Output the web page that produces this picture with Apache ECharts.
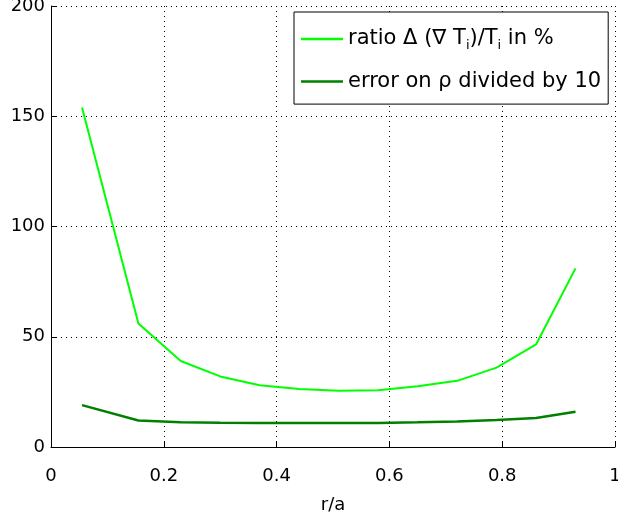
<!DOCTYPE html>
<html><head><meta charset="utf-8">
<script src="https://cdn.jsdelivr.net/npm/echarts@6/dist/echarts.min.js"></script>
<style>html,body{margin:0;padding:0;background:#fff}#c{width:618px;height:517px}</style>
</head><body><div id="c"></div>
<script>
var rPos = [0.055, 0.155, 0.23, 0.30, 0.37, 0.44, 0.51, 0.58, 0.65, 0.72, 0.79, 0.86, 0.93];
var ratioVals = [154, 56, 39, 32, 28, 26.3, 25.5, 25.7, 27.5, 30, 36, 46.5, 81];
var errorVals = [19, 12, 11.2, 11, 10.9, 10.9, 10.9, 10.9, 11.2, 11.6, 12.3, 13.2, 16];
var xTicks = [0, 0.2, 0.4, 0.6, 0.8, 1];
var yTicks = [0, 50, 100, 150, 200];
var name1 = 'ratio';
var name2 = 'error';

function pairs(xs, ys){ return xs.map(function(x,i){ return [x, ys[i]]; }); }
var font = 'DejaVu Sans, sans-serif';
var chart = echarts.init(document.getElementById('c'), null, {renderer:'canvas'});
chart.setOption({
  animation:false,
  backgroundColor:'#fff',
  grid:{left:51, top:6, right:3, bottom:70, containLabel:false, outerBoundsMode:'none'},
  xAxis:{type:'value', min:0, max:1, interval:0.2,
    name:'r/a', nameLocation:'middle', nameGap:49,
    nameTextStyle:{fontFamily:font, fontSize:18, color:'#000'},
    axisLine:{show:true, onZero:false, lineStyle:{color:'#000', width:1}},
    axisTick:{show:true, inside:true, length:5, lineStyle:{color:'#000'}},
    axisLabel:{fontFamily:font, fontSize:18, color:'#000', margin:20,
      formatter:function(v){ return String(Math.round(v*10)/10); }},
    splitLine:{show:true, lineStyle:{color:'#000', type:[1,4], width:1}}
  },
  yAxis:{type:'value', min:0, max:200, interval:50,
    axisLine:{show:true, onZero:false, lineStyle:{color:'#000', width:1}},
    axisTick:{show:true, inside:true, length:5, lineStyle:{color:'#000'}},
    axisLabel:{fontFamily:font, fontSize:18, color:'#000', margin:6, padding:[5,0,0,0]},
    splitLine:{show:true, lineStyle:{color:'#000', type:[1,4], width:1}}
  },
  legend:{show:true, orient:'vertical', left:294, top:12,
    padding:[16.5, 7, 12, 7], itemGap:18.6, itemWidth:42, itemHeight:2.5, icon:'rect',
    backgroundColor:'#fff', borderColor:'#000', borderWidth:1,
    textStyle:{fontFamily:font, fontSize:21, color:'#000',
      rich:{sub:{fontFamily:font, fontSize:13, color:'#000', padding:[14,0,0,0]},
            t:{fontFamily:font, fontSize:21, color:'#000'}}},
    formatter:function(n){
      if(n===name1) return '{t|ratio \u0394 (\u2207 T}{sub|i}{t|)/T}{sub|i}{t| in %}';
      return 'error on \u03c1 divided by 10';
    },
    data:[name1, name2]
  },
  series:[
    {name:name1, type:'line', data:pairs(rPos, ratioVals), symbol:'none', showSymbol:false,
      lineStyle:{color:'#00ff00', width:2}, itemStyle:{color:'#00ff00'}},
    {name:name2, type:'line', data:pairs(rPos, errorVals), symbol:'none', showSymbol:false,
      lineStyle:{color:'#008000', width:2.5}, itemStyle:{color:'#008000'}}
  ]
});
</script></body></html>
